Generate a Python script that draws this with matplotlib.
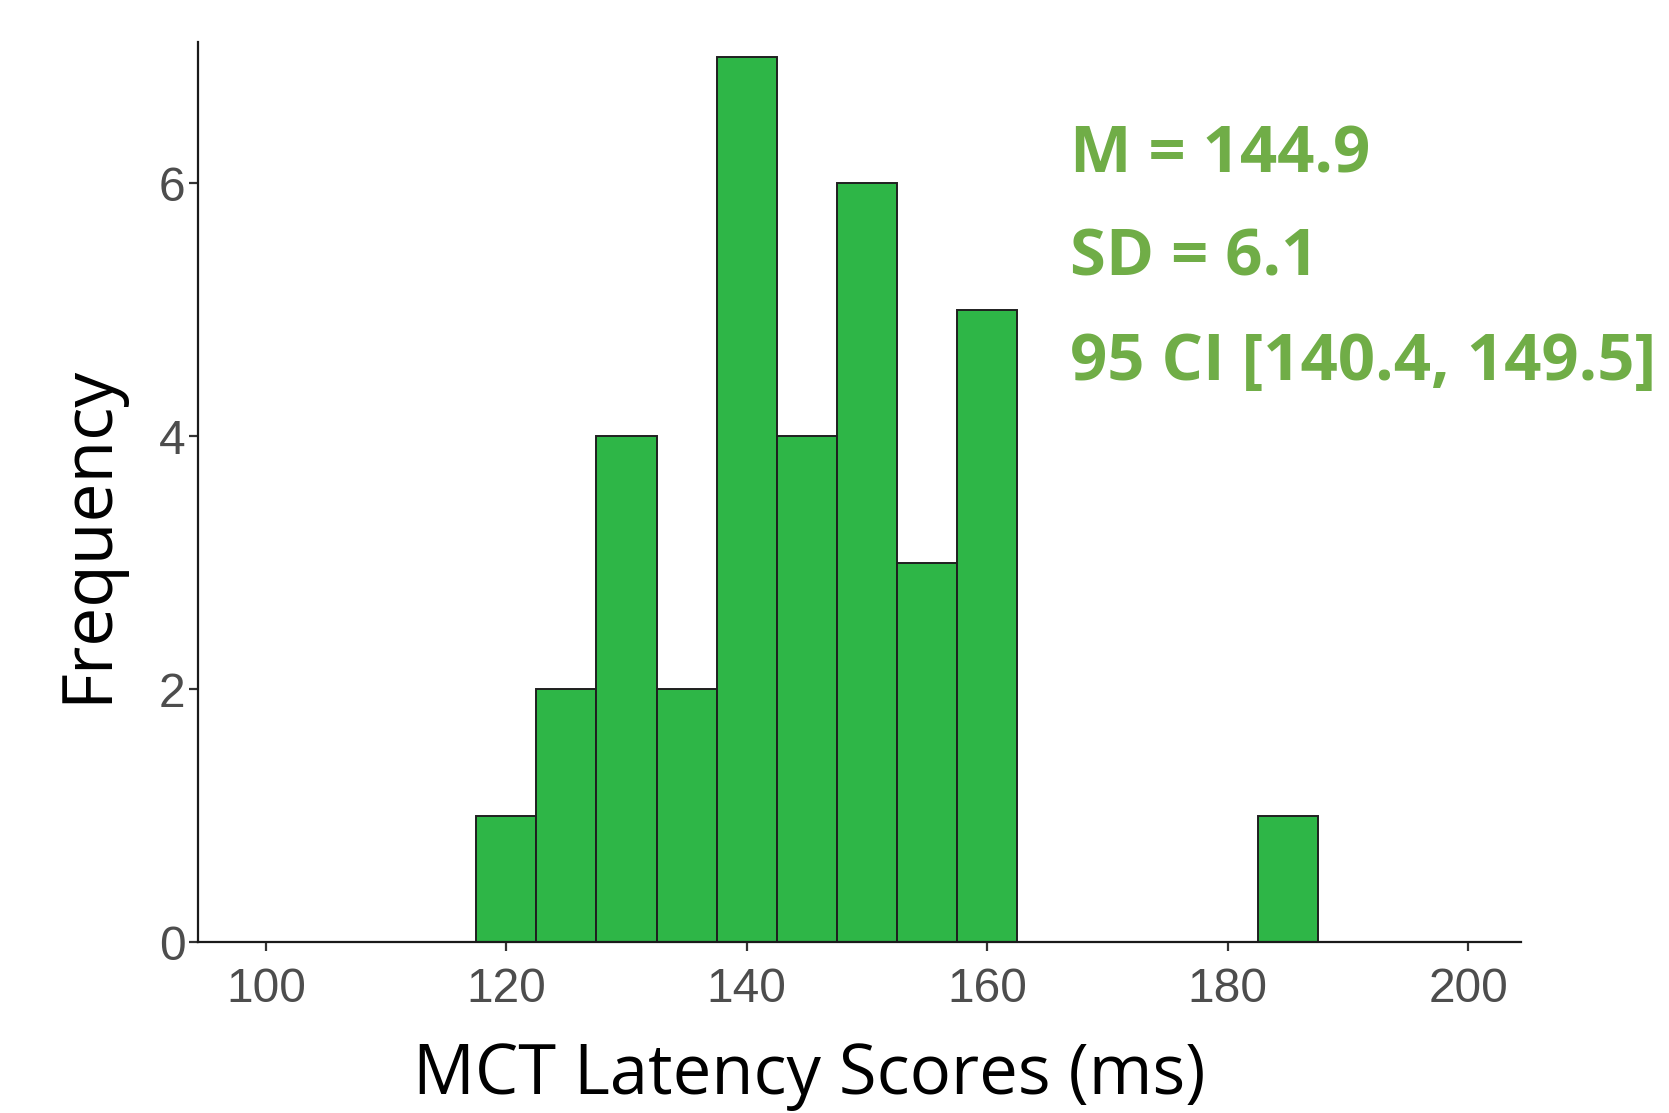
import numpy as np
import matplotlib
matplotlib.use("Agg")
import matplotlib.pyplot as plt

# histogram bins (width 5) and counts
bin_centers = [120, 125, 130, 135, 140, 145, 150, 155, 160, 165, 170, 175, 180, 185]
counts = [1, 2, 4, 2, 7, 4, 6, 3, 5, 0, 0, 0, 0, 1]
bin_width = 5

x_ticks = [100, 120, 140, 160, 180, 200]
y_ticks = [0, 2, 4, 6]

stats_lines = ["M = 144.9", "SD = 6.1", "95 CI [140.4, 149.5]"]

fig = plt.figure(figsize=(16.69, 11.13), dpi=100)
ax = fig.add_axes([0.1186, 0.1536, 0.9113 - 0.1186, 0.9623 - 0.1536])

ax.bar(bin_centers, counts, width=bin_width, align="center",
       color="#2EB647", edgecolor="#1f1f1f", linewidth=1.4)

ax.set_xlim(94.35, 204.4)
ax.set_ylim(0, 7.115)
ax.set_xticks(x_ticks)
ax.set_yticks(y_ticks)

for s in ["top", "right"]:
    ax.spines[s].set_visible(False)
for s in ["left", "bottom"]:
    ax.spines[s].set_color("#1a1a1a")
    ax.spines[s].set_linewidth(1.6)

ax.tick_params(axis="both", colors="#333333", labelcolor="#4D4D4D",
               labelsize=34.5, width=1.6)
ax.tick_params(axis="x", length=6.5, pad=11.5)
ax.tick_params(axis="y", length=6.5, pad=2.5)
for lab in ax.get_xticklabels() + ax.get_yticklabels():
    lab.set_fontfamily("Liberation Sans")

fig.text(0.4847, 0.017, "MCT Latency Scores (ms)", family="Open Sans",
         fontsize=49.5, ha="center", va="baseline", color="black")
fig.text(0.0527, 0.5207, "Frequency", family="Open Sans", fontsize=50,
         rotation=90, ha="center", va="center", color="black")

stat_y = [0.8446, 0.7529, 0.6586]
for txt, yy in zip(stats_lines, stat_y):
    fig.text(0.641, yy, txt, family="Open Sans", fontweight="bold",
             fontsize=47, color="#70AD47", ha="left", va="baseline")

fig.savefig("out.png", dpi=100)
